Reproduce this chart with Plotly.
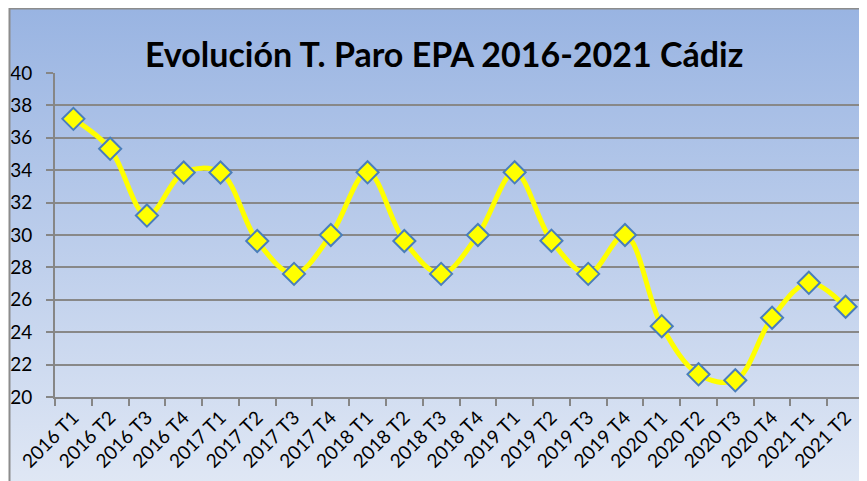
import plotly.graph_objects as go

categories = ["2016 T1", "2016 T2", "2016 T3", "2016 T4",
              "2017 T1", "2017 T2", "2017 T3", "2017 T4",
              "2018 T1", "2018 T2", "2018 T3", "2018 T4",
              "2019 T1", "2019 T2", "2019 T3", "2019 T4",
              "2020 T1", "2020 T2", "2020 T3", "2020 T4",
              "2021 T1", "2021 T2"]
tasa_paro = [37.17, 35.32, 31.2, 33.86,
             33.86, 29.63, 27.6, 30.0,
             33.87, 29.63, 27.6, 30.0,
             33.87, 29.65, 27.6, 30.0,
             24.37, 21.4, 21.03, 24.89,
             27.05, 25.57]
y_ticks = [20, 22, 24, 26, 28, 30, 32, 34, 36, 38, 40]

grad_svg = (
    "data:image/svg+xml;utf8,"
    "<svg xmlns='http://www.w3.org/2000/svg' width='100' height='100' preserveAspectRatio='none'>"
    "<defs><linearGradient id='g' x1='0' y1='0' x2='0' y2='1'>"
    "<stop offset='0' stop-color='%2399b4e2'/>"
    "<stop offset='1' stop-color='%23e2e9f5'/>"
    "</linearGradient></defs>"
    "<rect width='100' height='100' fill='url(%23g)'/></svg>"
)

L, R, T, B = 47, 11, 65, 92
PW, PH = 867 - L - R, 481 - T - B

fig = go.Figure()
fig.add_trace(go.Scatter(
    x=categories, y=tasa_paro,
    mode="lines+markers",
    line=dict(color="#FFFF00", width=5, shape="spline", smoothing=1.0),
    marker=dict(symbol="diamond", size=17, color="#FFFF00",
                line=dict(color="#4a7ebb", width=2)),
    hoverinfo="x+y",
))

fig.update_layout(
    width=867, height=481,
    margin=dict(l=L, r=R, t=T, b=B),
    paper_bgcolor="white",
    plot_bgcolor="rgba(0,0,0,0)",
    showlegend=False,
    title=dict(text="<b>Evolución T. Paro EPA 2016-2021 Cádiz</b>",
               x=0.503, xanchor="center", y=0.902, yanchor="middle",
               font=dict(family="Lato, Open Sans, sans-serif", size=34, color="black")),
    font=dict(family="Lato, Open Sans, sans-serif", color="black"),
    images=[dict(source=grad_svg, xref="paper", yref="paper",
                 x=-(L - 1) / PW, y=1 + (T - 1) / PH, sizex=1 + (L + R + 10) / PW,
                 sizey=1 + (T + B + 10) / PH,
                 xanchor="left", yanchor="top", sizing="stretch", layer="below")],
    shapes=[dict(type="rect", xref="paper", yref="paper",
                 x0=-(L - 1.5) / PW, x1=1 + (R + 20) / PW,
                 y0=-(B + 20) / PH, y1=1 + (T - 0.5) / PH,
                 line=dict(color="#8c8c8c", width=2), fillcolor="rgba(0,0,0,0)",
                 layer="above")],
)

fig.update_xaxes(
    type="category",
    automargin=False,
    tickangle=-45,
    tickfont=dict(size=19),
    showline=True, linecolor="#868686", linewidth=2,
    ticks="outside", tickson="boundaries", ticklen=7, tickcolor="#868686", tickwidth=2,
    showgrid=False,
    range=[-0.5, len(categories) - 0.5],
)
fig.update_yaxes(
    automargin=False,
    range=[20, 40],
    tickvals=y_ticks,
    tickfont=dict(size=19),
    ticklabelstandoff=10,
    showline=True, linecolor="#868686", linewidth=2,
    ticks="outside", ticklen=7, tickcolor="#868686", tickwidth=2,
    showgrid=True, gridcolor="#888888", gridwidth=2,
    zeroline=False,
)

fig.write_html("out.html")
